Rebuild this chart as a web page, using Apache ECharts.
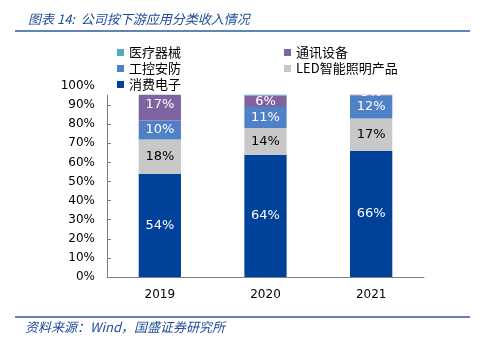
<!DOCTYPE html>
<html>
<head>
<meta charset="utf-8">
<script src="https://cdn.jsdelivr.net/npm/echarts@6/dist/echarts.min.js"></script>
<style>
  html, body { margin: 0; padding: 0; background: #fff; }
  #chart { width: 482px; height: 339px; }
</style>
</head>
<body>
<div id="chart"></div>
<script>
// Revenue mix by downstream application (% of total)
const years = ['2019', '2020', '2021'];
const consumer = [54, 64, 66];      // 消费电子
const led = [18, 14, 17];           // LED智能照明产品
const industrial = [10, 11, 12];    // 工控安防
const telecom = [17, 6, 3];         // 通讯设备
const medical = [1, 5, 2];          // 医疗器械
const yTicks = ['0%', '10%', '20%', '30%', '40%', '50%', '60%', '70%', '80%', '90%', '100%'];

const chart = echarts.init(document.getElementById('chart'));
const cjk = '"Noto Sans CJK SC", sans-serif';
const latin = '"DejaVu Sans", Verdana, sans-serif';

function seg(name, data, color, labelColor, showLabel) {
  return {
    name: name,
    type: 'bar',
    stack: 'total',
    data: data,
    barWidth: '40%',
    itemStyle: { color: color },
    label: {
      show: showLabel,
      position: 'inside',
      formatter: p => p.value + '%',
      color: labelColor,
      fontFamily: latin,
      fontSize: 13
    },
    z: 2
  };
}

const legendText = { fontFamily: cjk, fontSize: 13, lineHeight: 13, color: '#000' };

chart.setOption({
  animation: false,
  title: {
    text: '图表 14:  公司按下游应用分类收入情况',
    left: 23,
    top: 8,
    textStyle: { fontFamily: cjk, fontStyle: 'italic', fontWeight: 'normal', fontSize: 13, color: '#1F4A9A' }
  },
  graphic: [
    { type: 'line', shape: { x1: 15, y1: 31, x2: 470, y2: 31 }, style: { stroke: '#2E5AA0', lineWidth: 1.5 }, z: 100 },
    { type: 'line', shape: { x1: 15, y1: 317, x2: 470, y2: 317 }, style: { stroke: '#2E5AA0', lineWidth: 1.5 }, z: 100 },
    // the legend block sits on a white panel over the top of the plot
    { type: 'rect', shape: { x: 100, y: 36, width: 330, height: 58.8 }, style: { fill: '#ffffff' }, z: 100 },
    { type: 'text', left: 25, top: 321, style: { text: '资料来源：Wind，国盛证券研究所', font: 'italic 13px "Noto Sans CJK SC", sans-serif', fill: '#1F4A9A' }, z: 100 }
  ],
  legend: [
    {
      data: ['医疗器械', '工控安防', '消费电子'],
      orient: 'vertical',
      left: 112,
      top: 41,
      itemWidth: 7,
      itemHeight: 7,
      itemGap: 3,
      icon: 'rect',
      z: 200,
      textStyle: legendText
    },
    {
      data: ['通讯设备', 'LED智能照明产品'],
      orient: 'vertical',
      left: 279,
      top: 41,
      itemWidth: 7,
      itemHeight: 7,
      itemGap: 3,
      icon: 'rect',
      z: 200,
      textStyle: legendText
    }
  ],
  grid: { left: 107, right: 58, top: 86, bottom: 62 },
  xAxis: {
    type: 'category',
    data: years,
    axisLine: { lineStyle: { color: '#808080' } },
    axisTick: { show: false },
    axisLabel: { color: '#000', fontFamily: latin, fontSize: 12, margin: 12 }
  },
  yAxis: {
    type: 'value',
    min: 0,
    max: 100,
    interval: 10,
    splitLine: { show: false },
    axisLine: { show: true, lineStyle: { color: '#808080' } },
    axisTick: { show: true, inside: true, length: 4, lineStyle: { color: '#808080' } },
    axisLabel: { color: '#000', fontFamily: latin, fontSize: 12, margin: 12, formatter: v => yTicks[Math.round(v / 10)] }
  },
  series: [
    seg('消费电子', consumer, '#00419A', '#fff', true),
    seg('LED智能照明产品', led, '#C8C8C8', '#000', true),
    seg('工控安防', industrial, '#4F81C6', '#fff', true),
    seg('通讯设备', telecom, '#8064A2', '#fff', true),
    seg('医疗器械', medical, '#4BACC6', '#fff', false)
  ]
});
</script>
</body>
</html>
